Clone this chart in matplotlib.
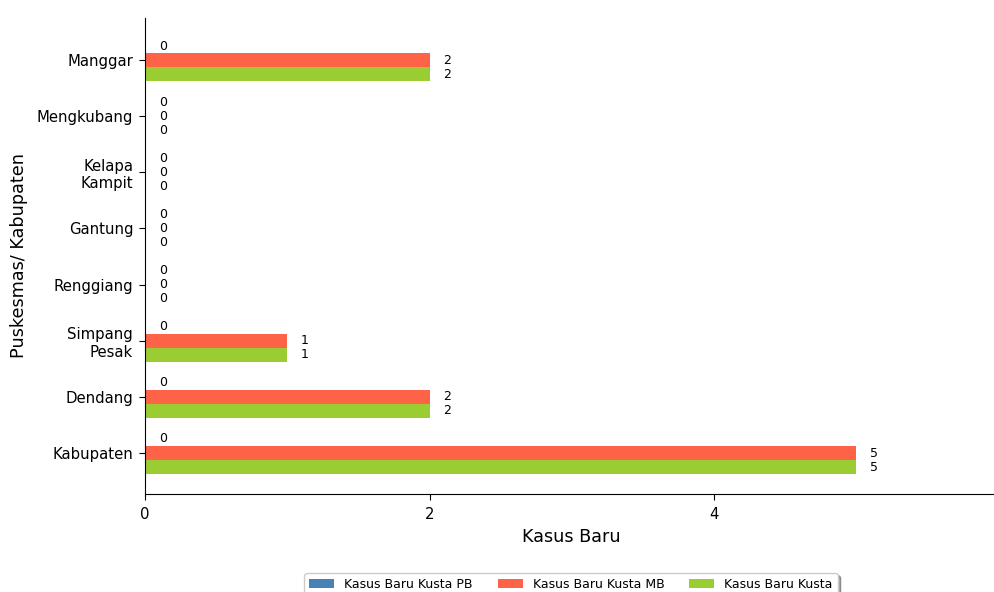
import matplotlib
matplotlib.use("Agg")
import matplotlib.pyplot as plt
import numpy as np

categories = ["Kabupaten", "Dendang", "Simpang\nPesak", "Renggiang", "Gantung",
              "Kelapa\nKampit", "Mengkubang", "Manggar"]
kusta_pb = [0, 0, 0, 0, 0, 0, 0, 0]
kusta_mb = [5, 2, 1, 0, 0, 0, 0, 2]
kusta_total = [5, 2, 1, 0, 0, 0, 0, 2]
series_labels = ["Kasus Baru Kusta PB", "Kasus Baru Kusta MB", "Kasus Baru Kusta"]
colors = ["#4682B4", "#FF6347", "#9ACD32"]

fig = plt.figure(figsize=(9.94, 5.92), dpi=100)
ax = fig.add_axes([145/994, 1-494/592, (998.5-145)/994, (494-18)/592])

y = np.arange(len(categories))
h = 0.25
offsets = [h, 0, -h]
for vals, off, lab, col in zip([kusta_pb, kusta_mb, kusta_total], offsets, series_labels, colors):
    bars = ax.barh(y + off, vals, height=h, color=col, label=lab)
    ax.bar_label(bars, labels=[str(v) for v in vals], padding=10, fontsize=9)

ax.set_yticks(y)
ax.set_yticklabels(categories, fontsize=10.7)
ax.set_xticks([0, 2, 4])
ax.tick_params(axis='x', labelsize=10.7, pad=5, length=4.5)
ax.tick_params(axis='y', length=4.5, pad=4)
ax.set_xlim(0, 6)
ax.set_ylim(-0.73, 7.75)
ax.spines['top'].set_visible(False)
ax.spines['right'].set_visible(False)
ax.set_xlabel("Kasus Baru", fontsize=12.7, labelpad=4)
ax.set_ylabel("Puskesmas/ Kabupaten", fontsize=12.7, labelpad=6)

ax.legend(loc='upper center', bbox_to_anchor=((571-145)/(998.5-145), (494-573)/476),
          ncol=3, fontsize=9, shadow=True, frameon=True, borderaxespad=0)

fig.savefig("out.png", dpi=100)
